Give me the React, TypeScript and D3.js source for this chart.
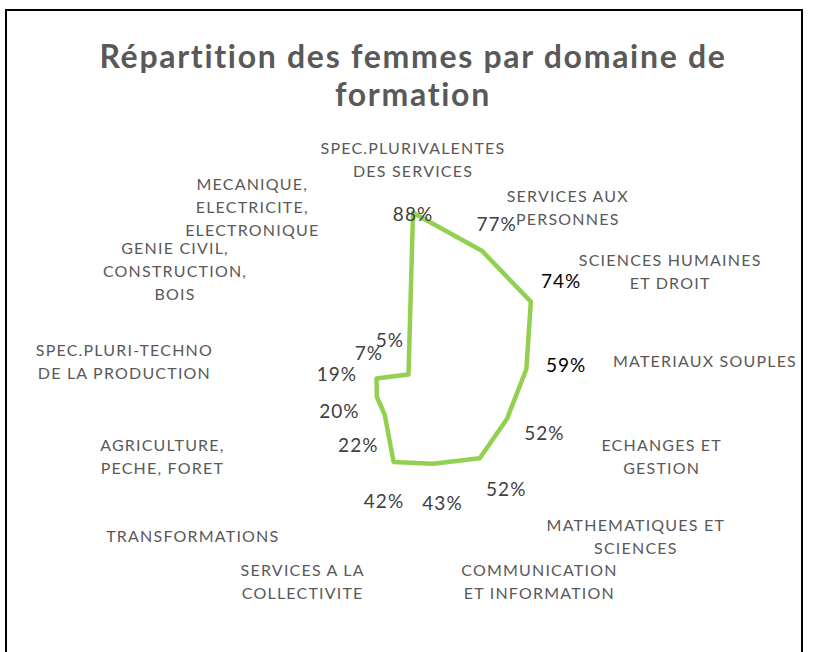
import { useEffect, useRef } from "react";
import * as d3 from "d3";

// categories in clockwise order, starting at the top
const categories = [
  "SPEC.PLURIVALENTES\nDES SERVICES",
  "SERVICES AUX\nPERSONNES",
  "SCIENCES HUMAINES\nET DROIT",
  "MATERIAUX SOUPLES",
  "ECHANGES ET\nGESTION",
  "MATHEMATIQUES ET\nSCIENCES",
  "COMMUNICATION\nET INFORMATION",
  "SERVICES A LA\nCOLLECTIVITE",
  "TRANSFORMATIONS",
  "AGRICULTURE,\nPECHE, FORET",
  "SPEC.PLURI-TECHNO\nDE LA PRODUCTION",
  "GENIE CIVIL,\nCONSTRUCTION,\nBOIS",
  "MECANIQUE,\nELECTRICITE,\nELECTRONIQUE",
];
// share of women, in %
const values = [88, 77, 74, 59, 52, 52, 43, 42, 22, 20, 19, 7, 5];
const darkLabels = [2, 3];

const title = ["Répartition des femmes par domaine de", "formation"];

const width = 813;
const height = 652;
const cx = 413;
const cy = 383;
const R = 193.5;
const font = "Lato, 'Open Sans', sans-serif";

export default function App() {
  const svgRef = useRef<SVGSVGElement>(null);

  useEffect(() => {
    const svg = d3.select(svgRef.current);
    svg.selectAll("*").remove();

    // frame
    svg
      .append("rect")
      .attr("x", 6)
      .attr("y", 10)
      .attr("width", 796)
      .attr("height", 700)
      .attr("fill", "white")
      .attr("stroke", "#000")
      .attr("stroke-width", 2);

    // title
    svg
      .append("g")
      .selectAll("text")
      .data(title)
      .join("text")
      .attr("x", cx)
      .attr("y", (d, i) => 55 + i * 38)
      .attr("text-anchor", "middle")
      .attr("dominant-baseline", "central")
      .style("font-family", font)
      .style("font-size", "32px")
      .style("letter-spacing", "1.7px")
      .style("font-weight", "700")
      .style("fill", "#595959")
      .text((d) => d);

    const n = categories.length;
    const angle = d3
      .scaleLinear()
      .domain([0, n])
      .range([0, 2 * Math.PI]);
    const r = d3.scaleLinear().domain([0, 100]).range([0, R]);

    const line = d3
      .lineRadial<number>()
      .angle((d, i) => angle(i))
      .radius((d) => r(d))
      .curve(d3.curveLinearClosed);

    const g = svg.append("g").attr("transform", `translate(${cx},${cy})`);

    g.append("path")
      .attr("d", line(values))
      .attr("fill", "none")
      .attr("stroke", "#92D050")
      .attr("stroke-width", 4.5)
      .attr("stroke-linejoin", "round");

    // data labels
    g.selectAll(".val")
      .data(values)
      .join("text")
      .attr("class", "val")
      .each(function (d, i) {
        const a = angle(i);
        const rr = Math.min(r(d) + 40, 180);
        const x = Math.sin(a) * rr;
        let y = -Math.cos(a) * rr;
        y = Math.max(y, -R + 24);
        d3.select(this).attr("x", x).attr("y", y);
      })
      .attr("text-anchor", "middle")
      .attr("dominant-baseline", "central")
      .style("font-family", font)
      .style("font-size", "19px")
      .style("letter-spacing", "1px")
      .style("fill", (d, i) => (darkLabels.includes(i) ? "#000" : "#404040"))
      .text((d) => `${d}%`);

    // category labels
    const lineH = 23;
    const gap = 8;
    categories.forEach((c, i) => {
      const lines = c.split("\n");
      const a = angle(i);
      const s = Math.sin(a);
      const co = Math.cos(a);
      const px = s * (R + gap);
      const py = -co * (R + gap);
      const block = g.append("g");
      const texts = block
        .selectAll("text")
        .data(lines)
        .join("text")
        .attr("text-anchor", "middle")
        .attr("dominant-baseline", "central")
        .style("font-family", font)
        .style("font-size", "16px")
        .style("letter-spacing", "1.2px")
        .style("fill", "#595959")
        .text((d) => d);
      let w = 0;
      texts.each(function () {
        w = Math.max(w, (this as SVGTextElement).getComputedTextLength());
      });
      const h = lines.length * lineH;
      let mid = px;
      if (s > 0.1) mid = px + w / 2;
      else if (s < -0.1) mid = px - w / 2;
      let top = py - h / 2 + 2;
      if (Math.abs(s) <= 0.1) top = co > 0 ? py - h : py;
      texts
        .attr("x", mid)
        .attr("y", (d, k) => top + lineH / 2 + k * lineH);
    });
  }, []);

  return (
    <svg
      ref={svgRef}
      width={width}
      height={height}
      style={{ position: "absolute", left: 0, top: 0, background: "white" }}
    />
  );
}
